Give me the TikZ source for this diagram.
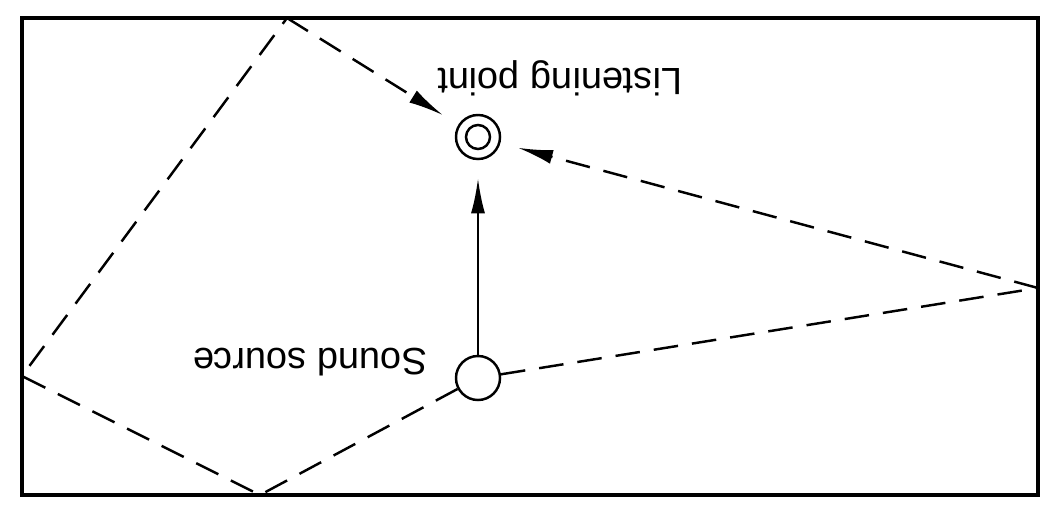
\documentclass[tikz,border=0pt]{standalone}
\usepackage{fontspec}
\setmainfont{Liberation Sans}
\usetikzlibrary{arrows.meta}

\begin{document}
\begin{tikzpicture}[x=0.01cm,y=-0.01cm,
    ray/.style={line width=0.7pt,dash pattern=on 7pt off 4pt},
    tip/.style={-{Latex[length=10pt,width=4pt]},shorten >=0.18cm},
    spot/.style={circle,draw,line width=0.7pt,inner sep=0pt,minimum size=0.44cm},
    caption/.style={rotate=180,font=\fontsize{10.8pt}{13pt}\selectfont}]
        \useasboundingbox (0,0) rectangle (1057,518);
        \draw[line width=1pt] (22,18) rectangle (1038,495);
        % listening point and sound source
        \node[spot] (lp) at (478,137) {};
        \node[circle,draw,line width=0.7pt,inner sep=0pt,minimum size=0.24cm] (lpin) at (lp) {};
        \node[spot] (ss) at (478,378) {};
        \node[caption] (lplabel) at (560,78) {Listening point};
        \node[caption] (sslabel) at (310,362) {Sound source};
        % reflection points on the walls
        \coordinate (rt) at (287,18);\coordinate (rl) at (22,376);
        \coordinate (rb) at (260,495);\coordinate (rr) at (1038,288);
        % direct and reflected paths
        \draw[line width=0.7pt,tip] (ss) -- (lp);
        \draw[ray] (ss) -- (rb) -- (rl) -- (rt);
        \draw[ray,tip] (rt) -- (lp);
        \draw[ray] (ss) -- (rr);
        \draw[ray,tip] (rr) -- (lp);
      \end{tikzpicture}
\end{document}
